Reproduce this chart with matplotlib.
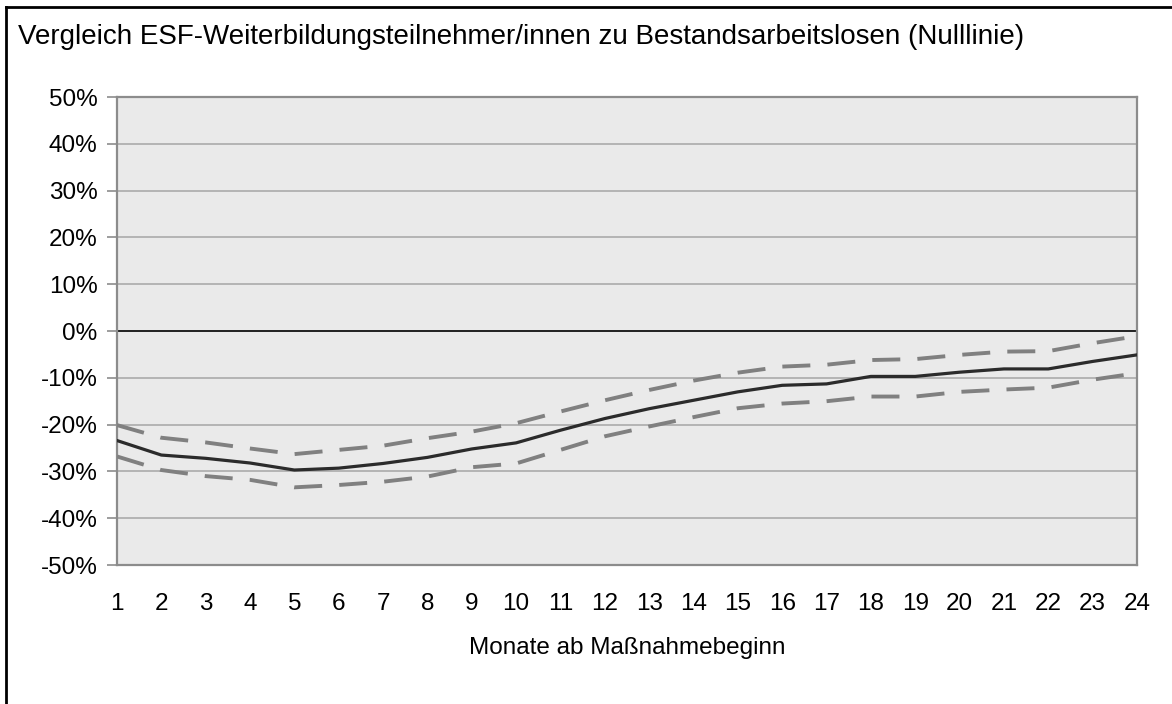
import matplotlib.pyplot as plt
from matplotlib.lines import Line2D
from matplotlib.ticker import FuncFormatter


monate = list(range(1, 25))

# Differenz in Prozentpunkten (Mittelwert und Konfidenzband)
mitte = [-23.4, -26.5, -27.2, -28.2, -29.7, -29.3, -28.3, -27.0, -25.2, -23.9, -21.2, -18.7,
         -16.6, -14.8, -13.0, -11.6, -11.3, -9.7, -9.7, -8.8, -8.1, -8.1, -6.5, -5.1]
oben = [-20.1, -22.8, -23.8, -25.1, -26.3, -25.4, -24.5, -22.9, -21.5, -19.7, -17.2, -14.8,
        -12.6, -10.6, -8.9, -7.6, -7.2, -6.2, -6.0, -5.1, -4.4, -4.3, -2.6, -1.1]
unten = [-26.8, -29.7, -31.0, -31.8, -33.4, -32.9, -32.2, -31.1, -29.1, -28.3, -25.4, -22.5,
         -20.4, -18.4, -16.5, -15.5, -15.0, -14.0, -14.0, -13.0, -12.5, -12.1, -10.4, -9.0]

y_ticks = list(range(-50, 51, 10))

titel = 'Vergleich ESF-Weiterbildungsteilnehmer/innen zu Bestandsarbeitslosen (Nulllinie)'
x_titel = 'Monate ab Maßnahmebeginn'


def main():
    plt.rcParams['font.family'] = ['Liberation Sans', 'DejaVu Sans']

    fig = plt.figure(figsize=(11.72, 7.04), dpi=100)
    ax = fig.add_axes([0.0998, 0.1974, 0.8703, 0.6648])
    ax.set_facecolor('#eaeaea')

    ax.grid(axis='y', color='#b4b4b4', linewidth=1.4)
    ax.set_axisbelow(True)
    ax.axhline(0, color='#222222', linewidth=1.4, zorder=2)

    ax.plot(monate, oben, color='#808080', linewidth=2.8, dashes=(7.2, 4.4),
            solid_capstyle='butt', zorder=3)
    ax.plot(monate, unten, color='#808080', linewidth=2.8, dashes=(7.2, 4.4),
            solid_capstyle='butt', zorder=3)
    ax.plot(monate, mitte, color='#2b2b2b', linewidth=2.3, zorder=4)

    ax.set_xlim(1, 24)
    ax.set_ylim(-50, 50)
    ax.set_xticks(monate)
    ax.set_yticks(y_ticks)
    ax.yaxis.set_major_formatter(FuncFormatter(lambda v, p: f'{v:.0f}%'))

    for s in ax.spines.values():
        s.set_color('#8c8c8c')
        s.set_linewidth(1.6)

    ax.tick_params(axis='y', length=7, width=1.2, color='#8c8c8c', pad=7,
                   labelsize=17.5, labelcolor='black')
    ax.tick_params(axis='x', length=0, pad=20, labelsize=17.5, labelcolor='black')

    ax.set_xlabel(x_titel, fontsize=17.5, labelpad=16)
    fig.text(0.0154, 0.947, titel, fontsize=20, ha='left', va='center')

    # schwarzer Rahmen oben und links
    fig.add_artist(Line2D([0.0055, 0.0055], [0, 0.990], color='black', linewidth=2,
                          transform=fig.transFigure))
    fig.add_artist(Line2D([0.0055, 1], [0.990, 0.990], color='black', linewidth=2,
                          transform=fig.transFigure))

    fig.savefig('out.png', dpi=100)


if __name__ == '__main__':
    main()
